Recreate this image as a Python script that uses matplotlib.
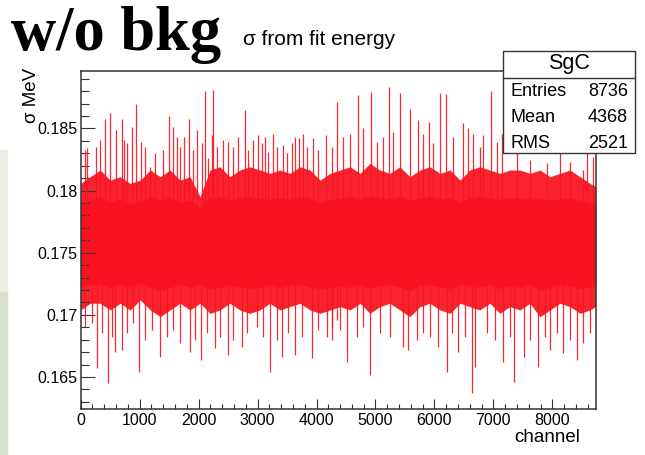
import matplotlib
matplotlib.use("Agg")
import matplotlib.pyplot as plt
from matplotlib.ticker import MultipleLocator, FuncFormatter
from matplotlib.patches import Rectangle
import numpy as np

W, H = 645, 455

# ---------------- data ----------------
title_main = "w/o bkg"
title_sub = "σ from fit energy"
y_label = "σ MeV"
x_label = "channel"
stats_name = "SgC"
stats_rows = ["Entries", "Mean", "RMS"]
stats_vals = ["8736", "4368", "2521"]

n_channels = 8736
y_lim = (0.16242, 0.18962)
x_ticks = [0, 1000, 2000, 3000, 4000, 5000, 6000, 7000, 8000]
y_ticks = [0.165, 0.17, 0.175, 0.18, 0.185]

# envelope of the dense band (channel, value)
env_ch = [0, 160, 330, 500, 670, 840, 1010, 1180, 1350, 1515, 1685, 1855, 2025,
          2195, 2360, 2530, 2700, 2870, 3040, 3210, 3380, 3550, 3720, 3890, 4060,
          4230, 4400, 4570, 4740, 4905, 5075, 5245, 5415, 5585, 5755, 5925, 6095,
          6265, 6435, 6600, 6770, 6940, 7110, 7280, 7450, 7620, 7790, 7960, 8130,
          8300, 8470, 8640, 8736]
env_hi_outer = [0.18057, 0.18111, 0.18165, 0.18084, 0.18111, 0.18057, 0.18084,
                0.18165, 0.18111, 0.18165, 0.18084, 0.18111, 0.17950, 0.18165,
                0.18191, 0.18111, 0.18165, 0.18191, 0.18165, 0.18138, 0.18165,
                0.18138, 0.18191, 0.18165, 0.18084, 0.18138, 0.18165, 0.18191,
                0.18138, 0.18218, 0.18165, 0.18138, 0.18191, 0.18111, 0.18165,
                0.18191, 0.18138, 0.18165, 0.18084, 0.18165, 0.18191, 0.18165,
                0.18138, 0.18165, 0.18165, 0.18138, 0.18165, 0.18111, 0.18138,
                0.18165, 0.18111, 0.18057, 0.18030]
env_lo_outer = [0.17039, 0.17093, 0.17093, 0.17039, 0.17093, 0.17039, 0.17120,
                0.17039, 0.16985, 0.17039, 0.17093, 0.17039, 0.17093, 0.17012,
                0.17039, 0.17093, 0.17039, 0.17012, 0.17039, 0.17093, 0.17039,
                0.17066, 0.17093, 0.17039, 0.17012, 0.17039, 0.17066, 0.17039,
                0.17093, 0.17012, 0.17066, 0.17093, 0.17039, 0.16985, 0.17066,
                0.17093, 0.17039, 0.17012, 0.17093, 0.17066, 0.17039, 0.17093,
                0.17012, 0.17066, 0.17039, 0.17093, 0.16985, 0.17039, 0.17093,
                0.17066, 0.17012, 0.17039, 0.17066]
env_hi_inner = [0.17900, 0.17925, 0.17950, 0.17910, 0.17930, 0.17895, 0.17915,
                0.17950, 0.17925, 0.17945, 0.17905, 0.17925, 0.17860, 0.17945,
                0.17955, 0.17920, 0.17945, 0.17955, 0.17940, 0.17930, 0.17945,
                0.17930, 0.17955, 0.17940, 0.17905, 0.17930, 0.17940, 0.17955,
                0.17930, 0.17960, 0.17940, 0.17930, 0.17955, 0.17920, 0.17940,
                0.17955, 0.17930, 0.17945, 0.17905, 0.17940, 0.17955, 0.17940,
                0.17930, 0.17940, 0.17940, 0.17930, 0.17940, 0.17920, 0.17930,
                0.17940, 0.17920, 0.17900, 0.17890]
env_lo_inner = [0.17220, 0.17245, 0.17245, 0.17220, 0.17245, 0.17220, 0.17255,
                0.17220, 0.17195, 0.17220, 0.17245, 0.17220, 0.17245, 0.17210,
                0.17220, 0.17245, 0.17220, 0.17210, 0.17220, 0.17245, 0.17220,
                0.17235, 0.17245, 0.17220, 0.17210, 0.17220, 0.17235, 0.17220,
                0.17245, 0.17210, 0.17235, 0.17245, 0.17220, 0.17195, 0.17235,
                0.17245, 0.17220, 0.17210, 0.17245, 0.17235, 0.17220, 0.17245,
                0.17210, 0.17235, 0.17220, 0.17245, 0.17195, 0.17220, 0.17245,
                0.17235, 0.17210, 0.17220, 0.17235]

# upward spikes (channel, peak value)
up_ch = [112, 259, 412, 497, 599, 695, 740, 864, 938, 1017, 1175, 1503, 1560, 1752,
         1842, 1967, 2108, 2165, 2221, 2249, 2408, 2589, 2786, 2928, 3012, 3125,
         3267, 3436, 3578, 3708, 3776, 3945, 4160, 4352,
         73, 327, 779, 1090, 1260, 1401, 1627, 1684, 1910, 2051, 2306, 2504, 2673,
         2843, 3069, 3182, 3323, 3493, 3634, 3832, 4030, 4256,
         4708, 4918, 5234, 5415, 5585, 5913, 6094, 6195, 6489, 6659, 6828, 6958,
         7139, 8581, 8694,
         4454, 4567, 4793, 5019, 5132, 5302, 5726, 5811, 5980, 6320, 6574, 6772,
         7055, 7394, 7620, 7902, 8128, 8298, 8524]
up_val = [0.18339, 0.18352, 0.18575, 0.18621, 0.18486, 0.18575, 0.18406, 0.18513,
          0.18693, 0.18392, 0.18191, 0.18602, 0.18513, 0.18433, 0.18575, 0.18486,
          0.18800, 0.18258, 0.18446, 0.18813, 0.18406, 0.18352, 0.18647, 0.18406,
          0.18446, 0.18433, 0.18459, 0.18366, 0.18379, 0.18419, 0.18459, 0.18419,
          0.18446, 0.18714,
          0.18326, 0.18406, 0.18379, 0.18352, 0.18299, 0.18326, 0.18433, 0.18352,
          0.18326, 0.18379, 0.18352, 0.18392, 0.18433, 0.18326, 0.18379, 0.18312,
          0.18352, 0.18299, 0.18433, 0.18352, 0.18326, 0.18352,
          0.18768, 0.18794, 0.18835, 0.18781, 0.18660, 0.18553, 0.18781, 0.18776,
          0.18540, 0.18459, 0.18446, 0.18802, 0.18459, 0.18352, 0.18272,
          0.18433, 0.18459, 0.18500, 0.18392, 0.18433, 0.18473, 0.18567, 0.18459,
          0.18379, 0.18433, 0.18500, 0.18352, 0.18392, 0.18433, 0.18245, 0.18218,
          0.18379, 0.18232, 0.18165]

# downward spikes (channel, lowest value)
dn_ch = [271, 457, 582, 706, 994, 1345, 1854, 2040, 2278, 2504, 2730, 3210, 3408,
         3634, 3928, 4171, 4341,
         73, 186, 355, 525, 779, 892, 1090, 1203, 1458, 1571, 1684, 1938, 2136,
         2362, 2588, 2815, 2984, 3097, 3323, 3521, 3747, 4030, 4256,
         4262, 4522, 4906, 5472, 5545, 6065, 6207, 6393, 6630, 6687, 7156, 7354,
         7524, 7761, 7959, 8185, 8411, 8524,
         4398, 4680, 4793, 5076, 5246, 5698, 5811, 5924, 6291, 6517, 6885, 7026,
         7281, 7620, 7874, 8072, 8298, 8637]
dn_val = [0.16570, 0.16450, 0.16704, 0.16718, 0.16543, 0.16664, 0.16704, 0.16637,
          0.16731, 0.16677, 0.16744, 0.16543, 0.16664, 0.16677, 0.16651, 0.16825,
          0.16959,
          0.16905, 0.16932, 0.16852, 0.16825, 0.16852, 0.16932, 0.16798, 0.16878,
          0.16825, 0.16878, 0.16771, 0.16798, 0.16852, 0.16825, 0.16798, 0.16852,
          0.16905, 0.16825, 0.16798, 0.16852, 0.16825, 0.16878, 0.16905,
          0.16798, 0.16624, 0.16516, 0.16744, 0.16718, 0.16744, 0.16543, 0.16704,
          0.16369, 0.16584, 0.16624, 0.16463, 0.16664, 0.16584, 0.16718, 0.16691,
          0.16637, 0.16771,
          0.16878, 0.16825, 0.16905, 0.16852, 0.16825, 0.16798, 0.16852, 0.16825,
          0.16852, 0.16825, 0.16852, 0.16798, 0.16825, 0.16798, 0.16825, 0.16852,
          0.16798, 0.16852]
band_center = 0.1755

# ---------------- drawing ----------------
RED = "#f8121f"
fig = plt.figure(figsize=(W / 100, H / 100), dpi=100)
fig.patch.set_facecolor("white")

# slide background strip on the left
fig.patches.append(Rectangle((0, 1 - 292 / H), 7 / W, (292 - 150) / H,
                             transform=fig.transFigure, color="#eceee6", zorder=0))
fig.patches.append(Rectangle((0, 0), 7 / W, 1 - 292 / H,
                             transform=fig.transFigure, color="#d7dfcd", zorder=0))

L, R, T, B = 80.7, 595.7, 71, 409
ax = fig.add_axes([L / W, 1 - B / H, (R - L) / W, (B - T) / H])

ax.fill_between(env_ch, env_lo_outer, env_hi_outer, color=RED, alpha=0.93, lw=0)
ax.fill_between(env_ch, env_lo_inner, env_hi_inner, color=RED, lw=0)
ax.vlines(up_ch, band_center, up_val, color=RED, lw=0.9, alpha=0.9)
ax.vlines(dn_ch, dn_val, band_center, color=RED, lw=0.9, alpha=0.9)

ax.set_xlim(0, n_channels)
ax.set_ylim(*y_lim)
ax.set_xticks(x_ticks)
ax.set_yticks(y_ticks)
ax.xaxis.set_minor_locator(MultipleLocator(200))
ax.yaxis.set_minor_locator(MultipleLocator(0.001))
ax.yaxis.set_major_formatter(FuncFormatter(lambda v, p: "%g" % round(v, 4)))
ax.xaxis.set_major_formatter(FuncFormatter(lambda v, p: "%d" % v))

for s in ax.spines.values():
    s.set_linewidth(1.1)
    s.set_color("#333333")

ax.tick_params(axis="both", which="both", direction="in", top=False, right=False,
               color="#333333", width=0.8, labelsize=11.5,
               labelfontfamily="Liberation Sans")
ax.tick_params(axis="y", which="major", length=10, pad=2.5)
ax.tick_params(axis="y", which="minor", length=5.5)
ax.tick_params(axis="x", which="major", length=7.2, pad=3)
ax.tick_params(axis="x", which="minor", length=3.6)

# axis titles
fig.text(580 / W, 1 - 442 / H, x_label, ha="right", va="baseline",
         fontsize=13.5, family="Liberation Sans")
fig.text(31 / W, 1 - 68 / H, y_label, ha="center", va="top", rotation=90,
         fontsize=13.5, family=["Liberation Sans", "DejaVu Sans"])

# titles
fig.text(11 / W, 1 - 50 / H, title_main, ha="left", va="baseline",
         fontsize=45, fontweight="bold", family="Liberation Serif")
fig.text(243 / W, 1 - 45 / H, title_sub, ha="left", va="baseline",
         fontsize=15, family=["Liberation Sans", "DejaVu Sans"])

# stats box
bx0, by0, bx1, by1, bdiv = 503, 51, 635, 153, 78
fig.patches.append(Rectangle((bx0 / W, 1 - by1 / H), (bx1 - bx0) / W, (by1 - by0) / H,
                             transform=fig.transFigure, facecolor="white",
                             edgecolor="#333333", lw=1.0, zorder=5))
fig.lines.append(plt.Line2D([bx0 / W, bx1 / W], [1 - bdiv / H, 1 - bdiv / H],
                            transform=fig.transFigure, color="#333333", lw=1.0,
                            zorder=6))
fig.text((bx0 + bx1) / 2 / W, 1 - 63.5 / H, stats_name, ha="center", va="center",
         fontsize=15.5, family="Liberation Sans", zorder=7)
row_y = [91.5, 118, 143.5]
for name, val, yy in zip(stats_rows, stats_vals, row_y):
    fig.text(510 / W, 1 - yy / H, name, ha="left", va="center", fontsize=13,
             family="Liberation Sans", zorder=7)
    fig.text(628 / W, 1 - yy / H, val, ha="right", va="center", fontsize=13,
             family="Liberation Sans", zorder=7)

fig.savefig("out.png", dpi=100)
